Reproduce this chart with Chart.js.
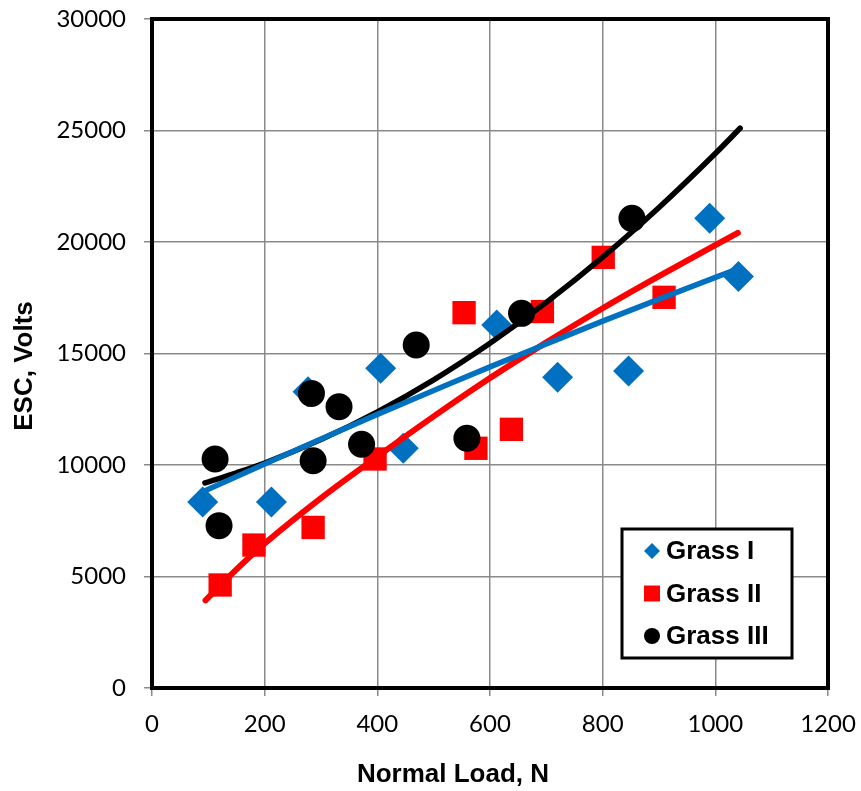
<!DOCTYPE html>
<html><head><meta charset="utf-8">
<script src="https://cdn.jsdelivr.net/npm/chart.js@4.4.0/dist/chart.umd.min.js"></script>
<style>html,body{margin:0;padding:0;background:#fff;}#wrap{width:861px;height:791px;}</style>
</head><body><div id="wrap"><canvas id="c" width="861" height="791"></canvas></div>
<script>
// ---- data ----
const seriesNames = ['Grass I', 'Grass II', 'Grass III'];
const xTitle = 'Normal Load, N';
const yTitle = 'ESC, Volts';

const grass1Load = [90, 212, 277, 406, 446, 612, 720, 846, 990, 1041];
const grass1ESC  = [8340, 8340, 13290, 14340, 10750, 16280, 13930, 14220, 21060, 18450];

const grass2Load = [121, 181, 286, 396, 554, 575, 638, 693, 801, 909];
const grass2ESC  = [4620, 6410, 7200, 10270, 16830, 10750, 11600, 16880, 19310, 17520];

const grass3Load = [112, 119, 283, 286, 332, 372, 469, 559, 656, 852];
const grass3ESC  = [10270, 7280, 13210, 10190, 12610, 10930, 15380, 11200, 16800, 21060];

// trend lines
const trend1Load = [90, 200, 300, 400, 500, 600, 700, 800, 900, 1040];
const trend1ESC  = [8800, 10050, 11170, 12270, 13340, 14400, 15430, 16450, 17440, 18800];

const trend2Load = [95, 150, 200, 300, 400, 500, 600, 700, 800, 900, 1040];
const trend2ESC  = [3930, 5320, 6480, 8520, 10380, 12180, 13900, 15500, 17030, 18470, 20410];

const trend3Load = [94, 150, 200, 300, 400, 500, 600, 700, 800, 900, 1000, 1044];
const trend3ESC  = [9200, 9650, 10090, 11140, 12380, 13820, 15460, 17290, 19320, 21550, 23970, 25100];

const xTickValues = [0, 200, 400, 600, 800, 1000, 1200];
const yTickValues = [0, 5000, 10000, 15000, 20000, 25000, 30000];

const colors = ['#0070C0', '#FF0000', '#000000'];

const pts = (xs, ys) => xs.map((x, i) => ({x: x, y: ys[i]}));

const scatterSets = [
  {label: seriesNames[0], data: pts(grass1Load, grass1ESC), pointStyle: 'rectRot', pointRadius: 15.5, order: 4},
  {label: seriesNames[1], data: pts(grass2Load, grass2ESC), pointStyle: 'rect', pointRadius: 16.5, order: 3},
  {label: seriesNames[2], data: pts(grass3Load, grass3ESC), pointStyle: 'circle', pointRadius: 13.5, order: 2}
].map((d, i) => Object.assign(d, {
  backgroundColor: colors[i], borderColor: colors[i], borderWidth: 0, pointBorderWidth: 0,
  pointHoverRadius: d.pointRadius, showLine: false, isMarkerSeries: true
}));

const trendSets = [
  pts(trend1Load, trend1ESC), pts(trend2Load, trend2ESC), pts(trend3Load, trend3ESC)
].map((data, i) => ({
  label: '', data: data, showLine: true, pointRadius: 0, pointHoverRadius: 0,
  borderColor: colors[i], backgroundColor: colors[i], borderWidth: i === 1 ? 6 : 5.5,
  borderCapStyle: 'round', borderJoinStyle: 'round', cubicInterpolationMode: 'monotone',
  order: 1, isMarkerSeries: false
}));

const titleFont = 'bold 26px "Liberation Sans", Arial, sans-serif';

const framePlugin = {
  id: 'frame',
  beforeDatasetsDraw(chart) {
    const {ctx, chartArea: a} = chart;
    ctx.save();
    ctx.strokeStyle = '#000';
    ctx.lineWidth = 4;
    ctx.strokeRect(a.left, a.top, a.right - a.left, a.bottom - a.top);
    ctx.restore();
  }
};

const axisTitlePlugin = {
  id: 'axisTitles',
  afterDraw(chart) {
    const ctx = chart.ctx;
    ctx.save();
    ctx.fillStyle = '#000';
    ctx.font = titleFont;
    ctx.textAlign = 'center';
    ctx.textBaseline = 'middle';
    ctx.fillText(xTitle, 453, 775);
    ctx.translate(25, 366);
    ctx.rotate(-Math.PI / 2);
    ctx.fillText(yTitle, 0, 0);
    ctx.restore();
  }
};

const legendPlugin = {
  id: 'insideLegend',
  afterDraw(chart) {
    const ctx = chart.ctx;
    const bx = 622, by = 529, bw = 170, bh = 129;
    ctx.save();
    ctx.fillStyle = '#fff';
    ctx.fillRect(bx, by, bw, bh);
    ctx.lineWidth = 3;
    ctx.strokeStyle = '#000';
    ctx.strokeRect(bx, by, bw, bh);
    const sets = chart.data.datasets.filter(d => d.isMarkerSeries);
    const radii = {rectRot: 8, rect: 11.3, circle: 8};
    sets.forEach((d, i) => {
      const y = 551 + i * 42.5;
      ctx.fillStyle = d.backgroundColor;
      ctx.strokeStyle = d.backgroundColor;
      Chart.helpers.drawPoint(ctx, {pointStyle: d.pointStyle, radius: radii[d.pointStyle], borderWidth: 0, rotation: 0}, 652, y);
      ctx.fillStyle = '#000';
      ctx.font = titleFont;
      ctx.textBaseline = 'middle';
      ctx.textAlign = 'left';
      ctx.fillText(d.label, 666, y + 1);
    });
    ctx.restore();
  }
};

const gridColor = '#8a8a8a';

new Chart(document.getElementById('c'), {
  type: 'scatter',
  data: {datasets: scatterSets.concat(trendSets)},
  plugins: [framePlugin, axisTitlePlugin, legendPlugin],
  options: {
    responsive: false,
    devicePixelRatio: 1,
    animation: false,
    events: [],
    layout: {padding: {left: 0, right: 33, top: 19, bottom: 0}},
    plugins: {legend: {display: false}, tooltip: {enabled: false}},
    scales: {
      x: {
        type: 'linear', min: 0, max: 1200,
        afterBuildTicks: s => { s.ticks = xTickValues.map(v => ({value: v})); },
        afterFit: s => { s.height = 103; s.paddingLeft = 0; s.paddingRight = 0; },
        ticks: {color: '#000', font: {family: 'Lato', size: 24}, padding: 14, callback: v => String(v), maxRotation: 0},
        grid: {color: gridColor, lineWidth: 1.5, tickLength: 8, drawTicks: true},
        border: {display: false},
        title: {display: false, text: xTitle}
      },
      y: {
        type: 'linear', min: 0, max: 30000,
        afterBuildTicks: s => { s.ticks = yTickValues.map(v => ({value: v})); },
        afterFit: s => { s.width = 152; s.paddingTop = 0; s.paddingBottom = 0; },
        ticks: {color: '#000', font: {family: 'Lato', size: 24}, padding: 18, callback: v => String(v)},
        grid: {color: gridColor, lineWidth: 1.5, tickLength: 8, drawTicks: true},
        border: {display: false},
        title: {display: false, text: yTitle}
      }
    }
  }
});
</script>
</body></html>
